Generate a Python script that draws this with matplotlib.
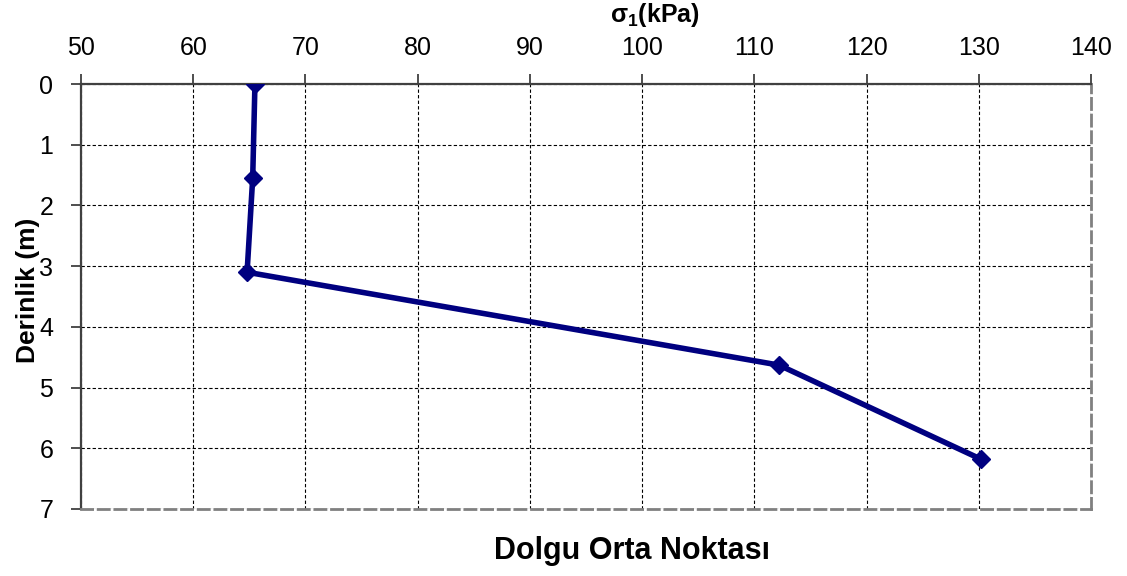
import matplotlib
matplotlib.use("Agg")
import matplotlib.pyplot as plt

plt.rcParams['font.family'] = ['Liberation Sans', 'DejaVu Sans']
plt.rcParams['mathtext.fontset'] = 'custom'
plt.rcParams['mathtext.rm'] = 'Liberation Sans'
plt.rcParams['mathtext.bf'] = 'Liberation Sans:bold'
plt.rcParams['mathtext.it'] = 'Liberation Sans:italic'

# Stress profile at the fill mid-point
sigma1_kpa = [65.5, 65.3, 64.8, 112.2, 130.2]
depth_m = [0.0, 1.55, 3.1, 4.63, 6.18]

x_ticks = [50, 60, 70, 80, 90, 100, 110, 120, 130, 140]
y_ticks = [0, 1, 2, 3, 4, 5, 6, 7]

fig = plt.figure(figsize=(11.27, 5.76), dpi=100)
ax = fig.add_axes([81 / 1127, 1 - 509 / 576, (1091 - 81) / 1127, (509 - 84) / 576])

ax.plot(sigma1_kpa, depth_m, color='#000080', linewidth=4, marker='D',
        markersize=9.5, markeredgecolor='#000080', markerfacecolor='#000080',
        solid_joinstyle='round', zorder=5)

ax.set_xlim(50, 140)
ax.set_ylim(7, 0)
ax.set_xticks(x_ticks)
ax.set_yticks(y_ticks)
ax.xaxis.tick_top()

ax.grid(True, color='black', linestyle=(0, (3, 2)), linewidth=0.8)
ax.set_axisbelow(True)

for side in ('top', 'left'):
    ax.spines[side].set_color('#404040')
    ax.spines[side].set_linewidth(1.6)
for side in ('right', 'bottom'):
    ax.spines[side].set_color('#808080')
    ax.spines[side].set_linewidth(2.0)
    ax.spines[side].set_linestyle((0, (4, 2)))

ax.tick_params(axis='x', which='major', direction='out', length=7, width=1.3,
               color='#404040', labelsize=18, pad=10)
ax.tick_params(axis='y', which='major', direction='out', length=7, width=1.3,
               color='#404040', labelsize=18, pad=13)

fig.text(655 / 1127, 1 - 15 / 576, r'σ$_\mathbf{1}$(kPa)', ha='center', va='center',
         fontsize=18, fontweight='bold')
fig.text(28 / 1127, 1 - 290 / 576, 'Derinlik (m)', rotation=90, ha='center',
         va='center', fontsize=19, fontweight='bold')
fig.text(632 / 1127, 1 - 551 / 576, 'Dolgu Orta Noktası', ha='center', va='center',
         fontsize=22, fontweight='bold')

fig.savefig('out.png', dpi=100)
